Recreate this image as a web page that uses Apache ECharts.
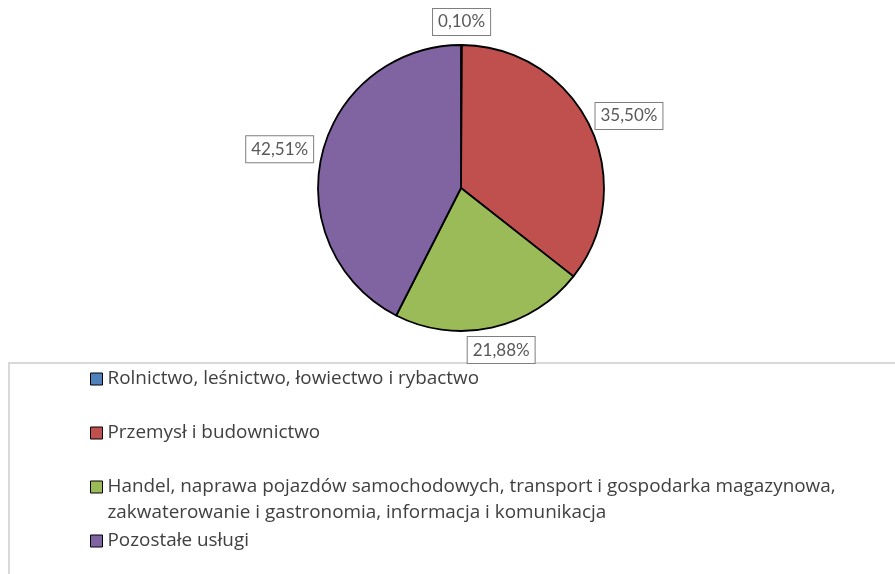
<!DOCTYPE html>
<html>
<head>
<meta charset="utf-8">
<script src="https://cdn.jsdelivr.net/npm/echarts@6/dist/echarts.min.js"></script>
<style>
html,body{margin:0;padding:0;background:#fff;}
#chart{width:895px;height:574px;}
</style>
</head>
<body>
<div id="chart"></div>
<script>
var categories = [
  'Rolnictwo, leśnictwo, łowiectwo i rybactwo',
  'Przemysł i budownictwo',
  'Handel, naprawa pojazdów samochodowych, transport i gospodarka magazynowa,\nzakwaterowanie i gastronomia, informacja i komunikacja',
  'Pozostałe usługi'
];
var values = [0.10, 35.50, 21.88, 42.51];
var colors = ['#4F81BD', '#C0504D', '#9BBB59', '#8064A2'];
var legendTops = [366, 420, 448, 528];

var CX = 461, CY = 188, R = 143;
var total = values.reduce(function(a, b){ return a + b; }, 0);
var mids = [];
(function(){
  var acc = 0;
  for (var i = 0; i < values.length; i++) {
    mids.push((acc + values[i] / 2) / total * Math.PI * 2);
    acc += values[i];
  }
})();

var chart = echarts.init(document.getElementById('chart'), null, {renderer: 'canvas'});

var legends = categories.map(function(name, i){
  var multi = name.indexOf('\n') >= 0;
  return {
    show: true,
    left: 90,
    top: legendTops[i],
    padding: 0,
    itemWidth: 12,
    itemHeight: 12,
    selectedMode: false,
    icon: 'rect',
    itemStyle: {borderColor: '#000', borderWidth: 1},
    data: [name],
    formatter: multi ? function(n){ return ' \n' + n; } : null,
    textStyle: {
      fontFamily: 'Open Sans',
      fontSize: 18.9,
      color: '#404040',
      lineHeight: 26
    }
  };
});

chart.setOption({
  animation: false,
  backgroundColor: '#fff',
  color: colors,
  graphic: [{
    type: 'rect',
    shape: {x: 9, y: 363, width: 1000, height: 400},
    style: {fill: 'none', stroke: '#d9d9d9', lineWidth: 2},
    silent: true
  }],
  legend: legends,
  series: [{
    type: 'pie',
    center: [CX, CY],
    radius: R,
    startAngle: 90,
    clockwise: true,
    avoidLabelOverlap: false,
    silent: true,
    itemStyle: {borderColor: '#000', borderWidth: 1.8},
    label: {
      show: true,
      position: 'outside',
      formatter: function(p){ return p.value.toFixed(2).replace('.', ',') + '%'; },
      fontFamily: 'Lato',
      fontSize: 17,
      color: '#595959',
      backgroundColor: '#fff',
      borderColor: '#7f7f7f',
      borderWidth: 1,
      padding: [5, 5, 4, 5]
    },
    labelLine: {show: false},
    labelLayout: function(p){
      var a = mids[p.dataIndex];
      var dx = Math.sin(a), dy = -Math.cos(a);
      var w = p.labelRect.width, h = p.labelRect.height;
      var g = 9;
      return {
        x: CX + dx * (R + g) + dx * w / 2,
        y: CY + dy * (R + g) + dy * h / 2,
        align: 'center',
        verticalAlign: 'middle'
      };
    },
    data: categories.map(function(c, i){ return {name: c, value: values[i]}; })
  }]
});
</script>
</body>
</html>
